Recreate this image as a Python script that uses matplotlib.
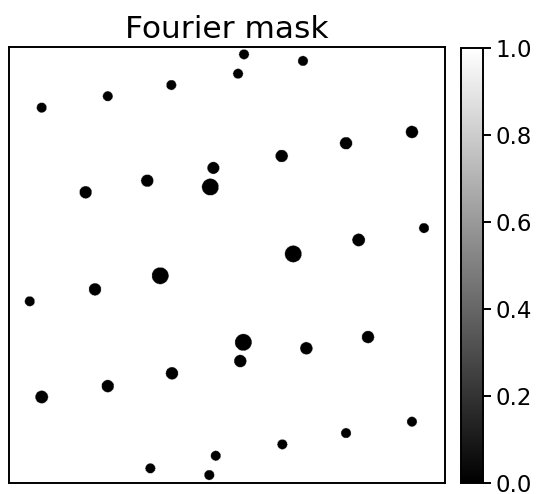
import numpy as np
import matplotlib
matplotlib.use("Agg")
import matplotlib.pyplot as plt

# Peak centres (column, row) and blocking radii, in units of a 256-pixel frame
peak_col = [137.5, 172.1, 134.0, 94.8, 57.5, 18.7, 236.1, 197.4, 159.6, 119.5,
            80.7, 117.7, 44.5, 243.2, 204.8, 166.4, 88.3, 50.0, 11.7, 137.1,
            210.3, 174.1, 135.3, 95.2, 57.5, 18.7, 236.1, 197.4, 160.0, 120.9,
            82.5, 117.1]
peak_row = [3.8, 7.7, 15.2, 21.8, 28.4, 35.1, 49.4, 56.0, 63.5, 70.5,
            78.0, 81.7, 84.8, 105.8, 112.8, 121.0, 133.8, 141.8, 148.8, 172.9,
            169.8, 176.4, 183.9, 191.1, 198.6, 205.0, 219.5, 226.2, 232.8, 239.5,
            246.9, 250.8]
peak_radius = [2.9, 2.9, 2.9, 2.9, 2.9, 2.9, 3.6, 3.6, 3.6, 3.5,
               3.6, 4.9, 3.6, 2.9, 3.7, 4.9, 4.9, 3.6, 2.9, 4.9,
               3.6, 3.6, 3.6, 3.6, 3.6, 3.7, 2.9, 2.9, 2.9, 2.9,
               2.9, 2.9]

FRAME = 256
N = 1024                      # mask resolution
scale = N / FRAME

# Pixel-centre coordinates expressed in frame units
coords = (np.arange(N) + 0.5) / scale - 0.5
xx, yy = np.meshgrid(coords, coords)
mask = np.ones((N, N))
for c, r, rad in zip(peak_col, peak_row, peak_radius):
    mask[(xx - c) ** 2 + (yy - r) ** 2 <= rad ** 2] = 0.0

fig = plt.figure(figsize=(5.43, 4.94), dpi=100)
ax = fig.add_axes([9 / 543, 11 / 494, 436 / 543, 436 / 494])
cax = fig.add_axes([461 / 543, 10.7 / 494, 21.7 / 543, 435 / 494])

im = ax.imshow(mask, cmap="gray", vmin=0, vmax=1,
               extent=(-0.5, FRAME - 0.5, FRAME - 0.5, -0.5),
               interpolation="antialiased")
ax.set_xticks([])
ax.set_yticks([])
for s in ax.spines.values():
    s.set_linewidth(1.4)
ax.set_title("Fourier mask", fontsize=22.5, pad=6.5)

cb = fig.colorbar(im, cax=cax)
cb.set_ticks([0.0, 0.2, 0.4, 0.6, 0.8, 1.0])
cb.ax.tick_params(labelsize=16.5, length=6, width=1.4)
cb.outline.set_linewidth(1.4)

fig.savefig("out.png", dpi=100)
